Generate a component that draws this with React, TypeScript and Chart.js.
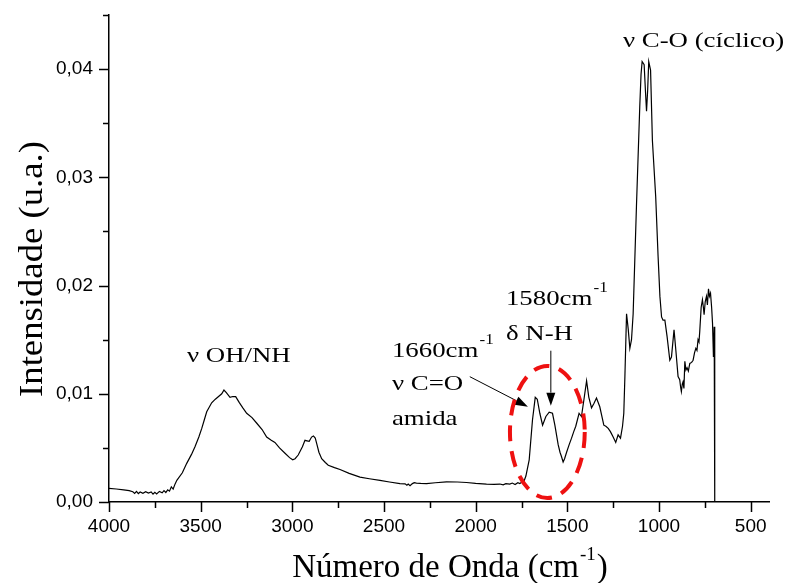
import React, { useEffect, useRef } from "react";
import { Chart, registerables } from "chart.js";

Chart.register(...registerables);

// Wavenumber (cm-1), descending
const wavenumbers = [
  4000, 3960, 3920, 3890, 3870, 3860, 3850, 3840, 3830, 3815, 3800, 3785, 3770, 3760, 3750, 3740, 3725, 3710, 3700, 3690,
  3680, 3670, 3660, 3650, 3640, 3630, 3600, 3576, 3550, 3531, 3510, 3494, 3480, 3467, 3440, 3420, 3404, 3385, 3373, 3360,
  3340, 3325, 3309, 3290, 3270, 3249, 3220, 3195, 3165, 3140, 3115, 3095, 3070, 3040, 3015, 2998, 2985, 2968, 2945, 2931,
  2920, 2908, 2895, 2885, 2875, 2867, 2855, 2840, 2820, 2804, 2770, 2740, 2690, 2631, 2580, 2522, 2470, 2413, 2385, 2375,
  2368, 2358, 2345, 2335, 2323, 2300, 2268, 2220, 2159, 2100, 2050, 2000, 1941, 1900, 1868, 1850, 1835, 1814, 1800, 1785,
  1770, 1759, 1750, 1740, 1726, 1708, 1690, 1675, 1664, 1650, 1635, 1617, 1599, 1581, 1568, 1550, 1540, 1532, 1523, 1515,
  1504, 1490, 1477, 1465, 1454, 1436, 1423, 1410, 1395, 1383, 1368, 1355, 1341, 1323, 1301, 1290, 1277, 1265, 1250, 1236,
  1223, 1210, 1199, 1192, 1186, 1177, 1168, 1159, 1150, 1141, 1123, 1105, 1098, 1092, 1081, 1074, 1068, 1062, 1056, 1046,
  1036, 1018, 1005, 995, 986, 978, 968, 956, 941, 932, 918, 908, 896, 887, 882, 878, 873, 869, 864, 859,
  853, 847, 840, 832, 822, 814, 806, 799, 793, 787, 782, 778, 770, 763, 758, 754, 748, 741, 736, 730,
  725, 719, 713, 708, 703, 699, 697, 695,
];

// Intensity (u.a.)
const intensities = [
  0.00125, 0.0012, 0.00112, 0.00105, 0.00095, 0.0008, 0.00098, 0.00078, 0.00092, 0.0008, 0.00095, 0.00082, 0.00093, 0.00072, 0.0009, 0.00075, 0.00098, 0.00085, 0.00105, 0.00088,
  0.00112, 0.001, 0.0014, 0.0012, 0.00165, 0.002, 0.0027, 0.00357, 0.0044, 0.0051, 0.006, 0.0068, 0.0076, 0.00834, 0.00917, 0.0095, 0.00973, 0.01, 0.01035, 0.0101,
  0.00967, 0.00975, 0.00973, 0.0092, 0.0087, 0.0082, 0.0078, 0.0073, 0.0067, 0.006, 0.0057, 0.0055, 0.005, 0.0045, 0.0041, 0.0039, 0.004, 0.00434, 0.0051, 0.0057,
  0.00565, 0.0056, 0.006, 0.0061, 0.0059, 0.0054, 0.0046, 0.004, 0.00365, 0.0034, 0.00318, 0.003, 0.00265, 0.0023, 0.00215, 0.002, 0.00185, 0.0017, 0.00168, 0.00155,
  0.00165, 0.0015, 0.0017, 0.00178, 0.00175, 0.00172, 0.0017, 0.00178, 0.00186, 0.00185, 0.0018, 0.00172, 0.00165, 0.00163, 0.00166, 0.00158, 0.0017, 0.00165, 0.00175, 0.00162,
  0.00178, 0.0017, 0.00182, 0.00175, 0.0024, 0.0039, 0.0076, 0.00967, 0.0095, 0.0082, 0.0071, 0.0079, 0.0083, 0.0082, 0.0071, 0.0053, 0.0046, 0.0042, 0.0037, 0.004,
  0.0046, 0.0053, 0.0059, 0.0065, 0.007, 0.0082, 0.0079, 0.0094, 0.0112, 0.0097, 0.0087, 0.0091, 0.0096, 0.0088, 0.0071, 0.007, 0.0068, 0.0065, 0.006, 0.0055,
  0.0062, 0.0059, 0.007, 0.0082, 0.0116, 0.0174, 0.016, 0.0142, 0.015, 0.0174, 0.0273, 0.0365, 0.0395, 0.0407, 0.0404, 0.038, 0.0361, 0.038, 0.0407, 0.0399,
  0.0334, 0.0282, 0.0227, 0.019, 0.0171, 0.0168, 0.0168, 0.0153, 0.0131, 0.0134, 0.0159, 0.014, 0.0116, 0.0113, 0.0106, 0.0102, 0.0109, 0.0111, 0.0105, 0.013,
  0.0122, 0.0124, 0.0121, 0.0128, 0.0129, 0.0131, 0.0138, 0.0142, 0.014, 0.015, 0.0148, 0.0157, 0.018, 0.0187, 0.018, 0.0173, 0.0185, 0.019, 0.0182, 0.0197,
  0.019, 0.0193, 0.018, 0.0165, 0.0134, 0.0162, 0.016, 0.0,
];

const xAxisTitle = "Número de Onda (cm";
const xAxisTitleSup = "-1";
const yAxisTitle = "Intensidade (u.a.)";

// Annotations anchored in data units [wavenumber, intensity]
const annotationTexts = [
  { text: "ν OH/NH", sup: "", at: [3575, 0.01293] },
  { text: "1660cm", sup: "-1", at: [2457, 0.01342] },
  { text: "ν C=O", sup: "", at: [2457, 0.01035] },
  { text: "amida", sup: "", at: [2457, 0.00711] },
  { text: "1580cm", sup: "-1", at: [1835, 0.0182] },
  { text: "δ N-H", sup: "", at: [1835, 0.01497] },
  { text: "ν C-O (cíclico)", sup: "", at: [1197, 0.042] },
];
const arrows = [
  { from: [2032, 0.01158], to: [1715, 0.00881] },
  { from: [1590, 0.01398], to: [1590, 0.0089] },
];
const ellipseCenter = [1609, 0.00647];
const ellipseRadii = [204, 0.0061];

const SERIF = '"Liberation Serif", "Times New Roman", serif';
const SANS = '"Liberation Sans", Arial, sans-serif';
const STRETCH = 1.22;

const decorPlugin = {
  id: "decor",
  afterDraw(chart: any) {
    const ctx = chart.ctx as CanvasRenderingContext2D;
    const xs = chart.scales.x;
    const ys = chart.scales.y;
    const area = chart.chartArea;
    ctx.save();
    ctx.strokeStyle = "#000";
    ctx.fillStyle = "#000";
    ctx.lineWidth = 1.5;

    // ticks (major/minor)
    xs.ticks.forEach((t: any) => {
      const px = Math.round(xs.getPixelForValue(t.value)) + 0.5;
      const major = t.value % 500 === 0;
      ctx.beginPath();
      ctx.moveTo(px, area.bottom);
      ctx.lineTo(px, area.bottom + (major ? 10 : 6));
      ctx.stroke();
    });
    ys.ticks.forEach((t: any) => {
      const py = Math.round(ys.getPixelForValue(t.value)) + 0.5;
      const major = Math.round(t.value * 1000) % 10 === 0;
      ctx.beginPath();
      ctx.moveTo(area.left, py);
      ctx.lineTo(area.left - (major ? 10 : 6), py);
      ctx.stroke();
    });

    // axis titles
    ctx.font = `33px ${SERIF}`;
    ctx.textBaseline = "alphabetic";
    ctx.textAlign = "left";
    const w1 = ctx.measureText(xAxisTitle).width;
    ctx.font = `19px ${SERIF}`;
    const w2 = ctx.measureText(xAxisTitleSup).width;
    ctx.font = `33px ${SERIF}`;
    const w3 = ctx.measureText(")").width;
    const total = w1 + w2 + w3 + 2;
    const cx = area.left + 341;
    const x0 = cx - total / 2;
    const by = 577;
    ctx.fillText(xAxisTitle, x0, by);
    ctx.font = `19px ${SERIF}`;
    ctx.fillText(xAxisTitleSup, x0 + w1 + 1, by - 17);
    ctx.font = `33px ${SERIF}`;
    ctx.fillText(")", x0 + w1 + w2 + 2, by);

    ctx.save();
    ctx.translate(42, 269);
    ctx.rotate(-Math.PI / 2);
    ctx.scale(1.08, 1);
    ctx.font = `34px ${SERIF}`;
    ctx.textAlign = "center";
    ctx.fillText(yAxisTitle, 0, 0);
    ctx.restore();

    // annotation texts (horizontally stretched like the source figure)
    annotationTexts.forEach((a) => {
      const px = xs.getPixelForValue(a.at[0]);
      const py = ys.getPixelForValue(a.at[1]);
      ctx.save();
      ctx.translate(px, py);
      ctx.scale(STRETCH, 1);
      ctx.font = `22px ${SERIF}`;
      ctx.textAlign = "left";
      ctx.fillText(a.text, 0, 0);
      if (a.sup) {
        const w = ctx.measureText(a.text).width;
        ctx.font = `14px ${SERIF}`;
        ctx.fillText(a.sup, w + 1, -13);
      }
      ctx.restore();
    });

    // arrows
    arrows.forEach((ar) => {
      const x1 = xs.getPixelForValue(ar.from[0]);
      const y1 = ys.getPixelForValue(ar.from[1]);
      const x2 = xs.getPixelForValue(ar.to[0]);
      const y2 = ys.getPixelForValue(ar.to[1]);
      const ang = Math.atan2(y2 - y1, x2 - x1);
      const hl = 13;
      const hw = 4.5;
      const bx = x2 - hl * Math.cos(ang);
      const byy = y2 - hl * Math.sin(ang);
      ctx.lineWidth = 1;
      ctx.beginPath();
      ctx.moveTo(x1, y1);
      ctx.lineTo(bx, byy);
      ctx.stroke();
      ctx.beginPath();
      ctx.moveTo(x2, y2);
      ctx.lineTo(bx + hw * Math.sin(ang), byy - hw * Math.cos(ang));
      ctx.lineTo(bx - hw * Math.sin(ang), byy + hw * Math.cos(ang));
      ctx.closePath();
      ctx.fill();
    });

    // red dashed ellipse
    const ecx = xs.getPixelForValue(ellipseCenter[0]);
    const ecy = ys.getPixelForValue(ellipseCenter[1]);
    const rx = Math.abs(xs.getPixelForValue(ellipseCenter[0] - ellipseRadii[0]) - ecx);
    const ry = Math.abs(ys.getPixelForValue(ellipseCenter[1] + ellipseRadii[1]) - ecy);
    ctx.strokeStyle = "#ee1111";
    ctx.lineWidth = 4;
    ctx.setLineDash([16, 10]);
    ctx.beginPath();
    ctx.ellipse(ecx, ecy, rx, ry, 0, 0, Math.PI * 2);
    ctx.stroke();
    ctx.setLineDash([]);
    ctx.restore();
  },
};

export default function App() {
  const ref = useRef<HTMLCanvasElement | null>(null);
  useEffect(() => {
    if (!ref.current) return;
    const chart = new Chart(ref.current, {
      type: "line",
      data: {
        datasets: [
          {
            data: wavenumbers.map((x, i) => ({ x, y: intensities[i] })),
            borderColor: "#000",
            borderWidth: 1.2,
            pointRadius: 0,
            tension: 0,
            fill: false,
          },
        ],
      },
      options: {
        animation: false,
        responsive: false,
        maintainAspectRatio: false,
        layout: { padding: { top: 15, right: 19, left: 0, bottom: 0 } },
        plugins: { legend: { display: false }, tooltip: { enabled: false } },
        scales: {
          x: {
            type: "linear",
            reverse: true,
            min: 400,
            max: 4000,
            ticks: {
              stepSize: 250,
              includeBounds: false,
              autoSkip: false,
              maxRotation: 0,
              color: "#000",
              font: { family: SANS, size: 19 },
              padding: 13,
              callback: (v: any) => (Number(v) % 500 === 0 ? String(v) : ""),
            },
            grid: { drawOnChartArea: false, drawTicks: false },
            border: { color: "#000", width: 1.5 },
            afterFit: (s: any) => {
              s.height = 81;
              s.paddingLeft = 0;
              s.paddingRight = 0;
            },
          },
          y: {
            type: "linear",
            min: 0,
            max: 0.045,
            ticks: {
              stepSize: 0.005,
              includeBounds: false,
              autoSkip: false,
              color: "#000",
              font: { family: SANS, size: 19 },
              padding: 16,
              callback: (v: any) => {
                const n = Number(v);
                return Math.round(n * 1000) % 10 === 0 ? n.toFixed(2).replace(".", ",") : "";
              },
            },
            grid: { drawOnChartArea: false, drawTicks: false },
            border: { color: "#000", width: 1.5 },
            afterFit: (s: any) => {
              s.width = 109;
              s.paddingTop = 0;
              s.paddingBottom = 0;
            },
          },
        },
      },
      plugins: [decorPlugin],
    });
    return () => chart.destroy();
  }, []);
  return (
    <div style={{ position: "fixed", left: 0, top: 0, width: 788, height: 583, background: "#fff" }}>
      <canvas ref={ref} width={788} height={583} style={{ width: 788, height: 583 }} />
    </div>
  );
}
